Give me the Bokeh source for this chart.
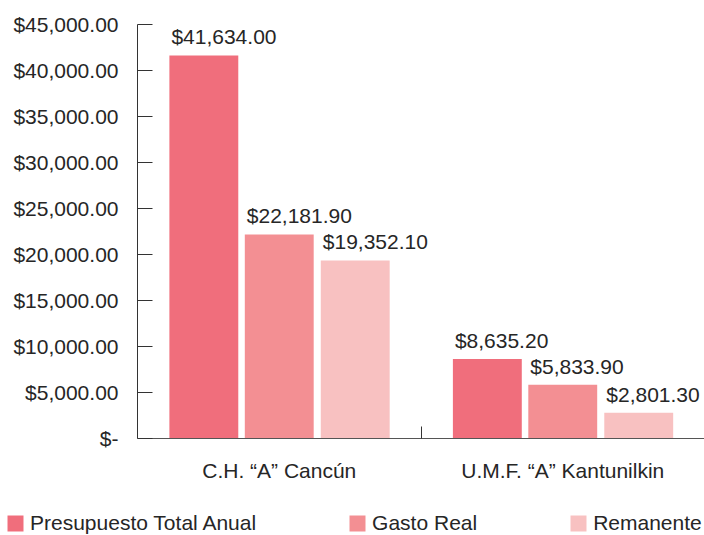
from bokeh.plotting import figure
from bokeh.layouts import column
from bokeh.models import (ColumnDataSource, FixedTicker, NumeralTickFormatter, LabelSet,
                          Legend, LegendItem, Range1d)
from bokeh.core.properties import value
from bokeh.transform import dodge
from bokeh.embed import file_html
from bokeh.resources import INLINE

categories = ['C.H. \u201cA\u201d Canc\u00fan', 'U.M.F. \u201cA\u201d Kantunilkin']
series = ['Presupuesto Total Anual', 'Gasto Real', 'Remanente']
presupuesto = [41634.00, 8635.20]
gasto = [22181.90, 5833.90]
remanente = [19352.10, 2801.30]
y_ticks = [0, 5000, 10000, 15000, 20000, 25000, 30000, 35000, 40000, 45000]

colors = ['#F06E7C', '#F38F93', '#F8C1C1']
offsets = [-0.266, 0.0, 0.268]
bar_w = 0.243
FONT = "Liberation Sans"
FS = '21px'
TXT = "#262626"

xc = [i + 0.5 for i in range(len(categories))]
values = [presupuesto, gasto, remanente]
src = {'xc': xc}
for i, v in enumerate(values):
    src[f's{i}'] = v
    src[f'l{i}'] = ['${:,.2f}'.format(x) for x in v]
source = ColumnDataSource(src)

p = figure(width=704, height=500, output_backend="svg", toolbar_location=None,
           x_range=Range1d(0, len(categories)), y_range=Range1d(0, y_ticks[-1]),
           min_border_top=24, min_border_right=0, min_border_left=137,
           min_border_bottom=62)
p.outline_line_color = None
p.xgrid.grid_line_color = None
p.ygrid.grid_line_color = None
p.frame_align = False

for i, name in enumerate(series):
    p.vbar(x=dodge('xc', offsets[i]), top=f's{i}', width=bar_w, source=source,
           fill_color=colors[i], line_color=None)
    lbl = LabelSet(x=dodge('xc', offsets[i] - bar_w / 2), y=f's{i}', text=f'l{i}', source=source,
                   text_align='left', text_baseline='bottom', x_offset=2, y_offset=7,
                   text_font=value(FONT), text_font_size=FS, text_color=TXT)
    p.add_layout(lbl)

# y axis
ya = p.yaxis[0]
ya.ticker = FixedTicker(ticks=y_ticks)
ya.formatter = NumeralTickFormatter(format="$0,0.00")
ya.major_label_overrides = {0: "$-"}
ya.major_tick_in = 15
ya.major_tick_out = 0
ya.minor_tick_line_color = None
ya.major_label_standoff = 19
ya.major_label_text_font = FONT
ya.major_label_text_font_size = FS
ya.major_label_text_color = TXT
ya.axis_line_color = "#333333"
ya.major_tick_line_color = "#333333"

# x axis
xa = p.xaxis[0]
xa.ticker = FixedTicker(ticks=xc, minor_ticks=list(range(1, len(categories))))
xa.major_label_overrides = {x: c for x, c in zip(xc, categories)}
xa.major_tick_line_color = None
xa.minor_tick_in = 12
xa.minor_tick_out = 0
xa.minor_tick_line_color = "#333333"
xa.axis_line_color = "#555555"
xa.major_label_standoff = 14
xa.major_label_text_font = FONT
xa.major_label_text_font_size = FS
xa.major_label_text_color = TXT

# legend strip: hidden renderers, only the legend shows
lf = figure(width=704, height=35, output_backend="svg", toolbar_location=None,
            x_axis_type=None, y_axis_type=None, min_border=0,
            x_range=Range1d(0, len(categories)), y_range=Range1d(0, y_ticks[-1]))
lf.outline_line_color = None
lf.xgrid.grid_line_color = None
lf.ygrid.grid_line_color = None
lf.frame_align = False
items = []
for i, name in enumerate(series):
    r = lf.vbar(x=dodge('xc', offsets[i]), top=f's{i}', width=bar_w,
                source=source, fill_color=colors[i], line_color=None, visible=False)
    items.append(LegendItem(label=name, renderers=[r]))
legend = Legend(items=items, orientation='horizontal', location=(5, 0),
                glyph_width=20, glyph_height=20, label_text_font=FONT,
                label_text_font_size=FS, label_text_color=TXT, spacing=91,
                padding=0, margin=0, border_line_color=None, background_fill_alpha=0,
                inactive_fill_alpha=0, label_standoff=5)
lf.add_layout(legend, 'center')

layout = column(p, lf, spacing=0)
open("out.html", "w").write(file_html(layout, INLINE))
